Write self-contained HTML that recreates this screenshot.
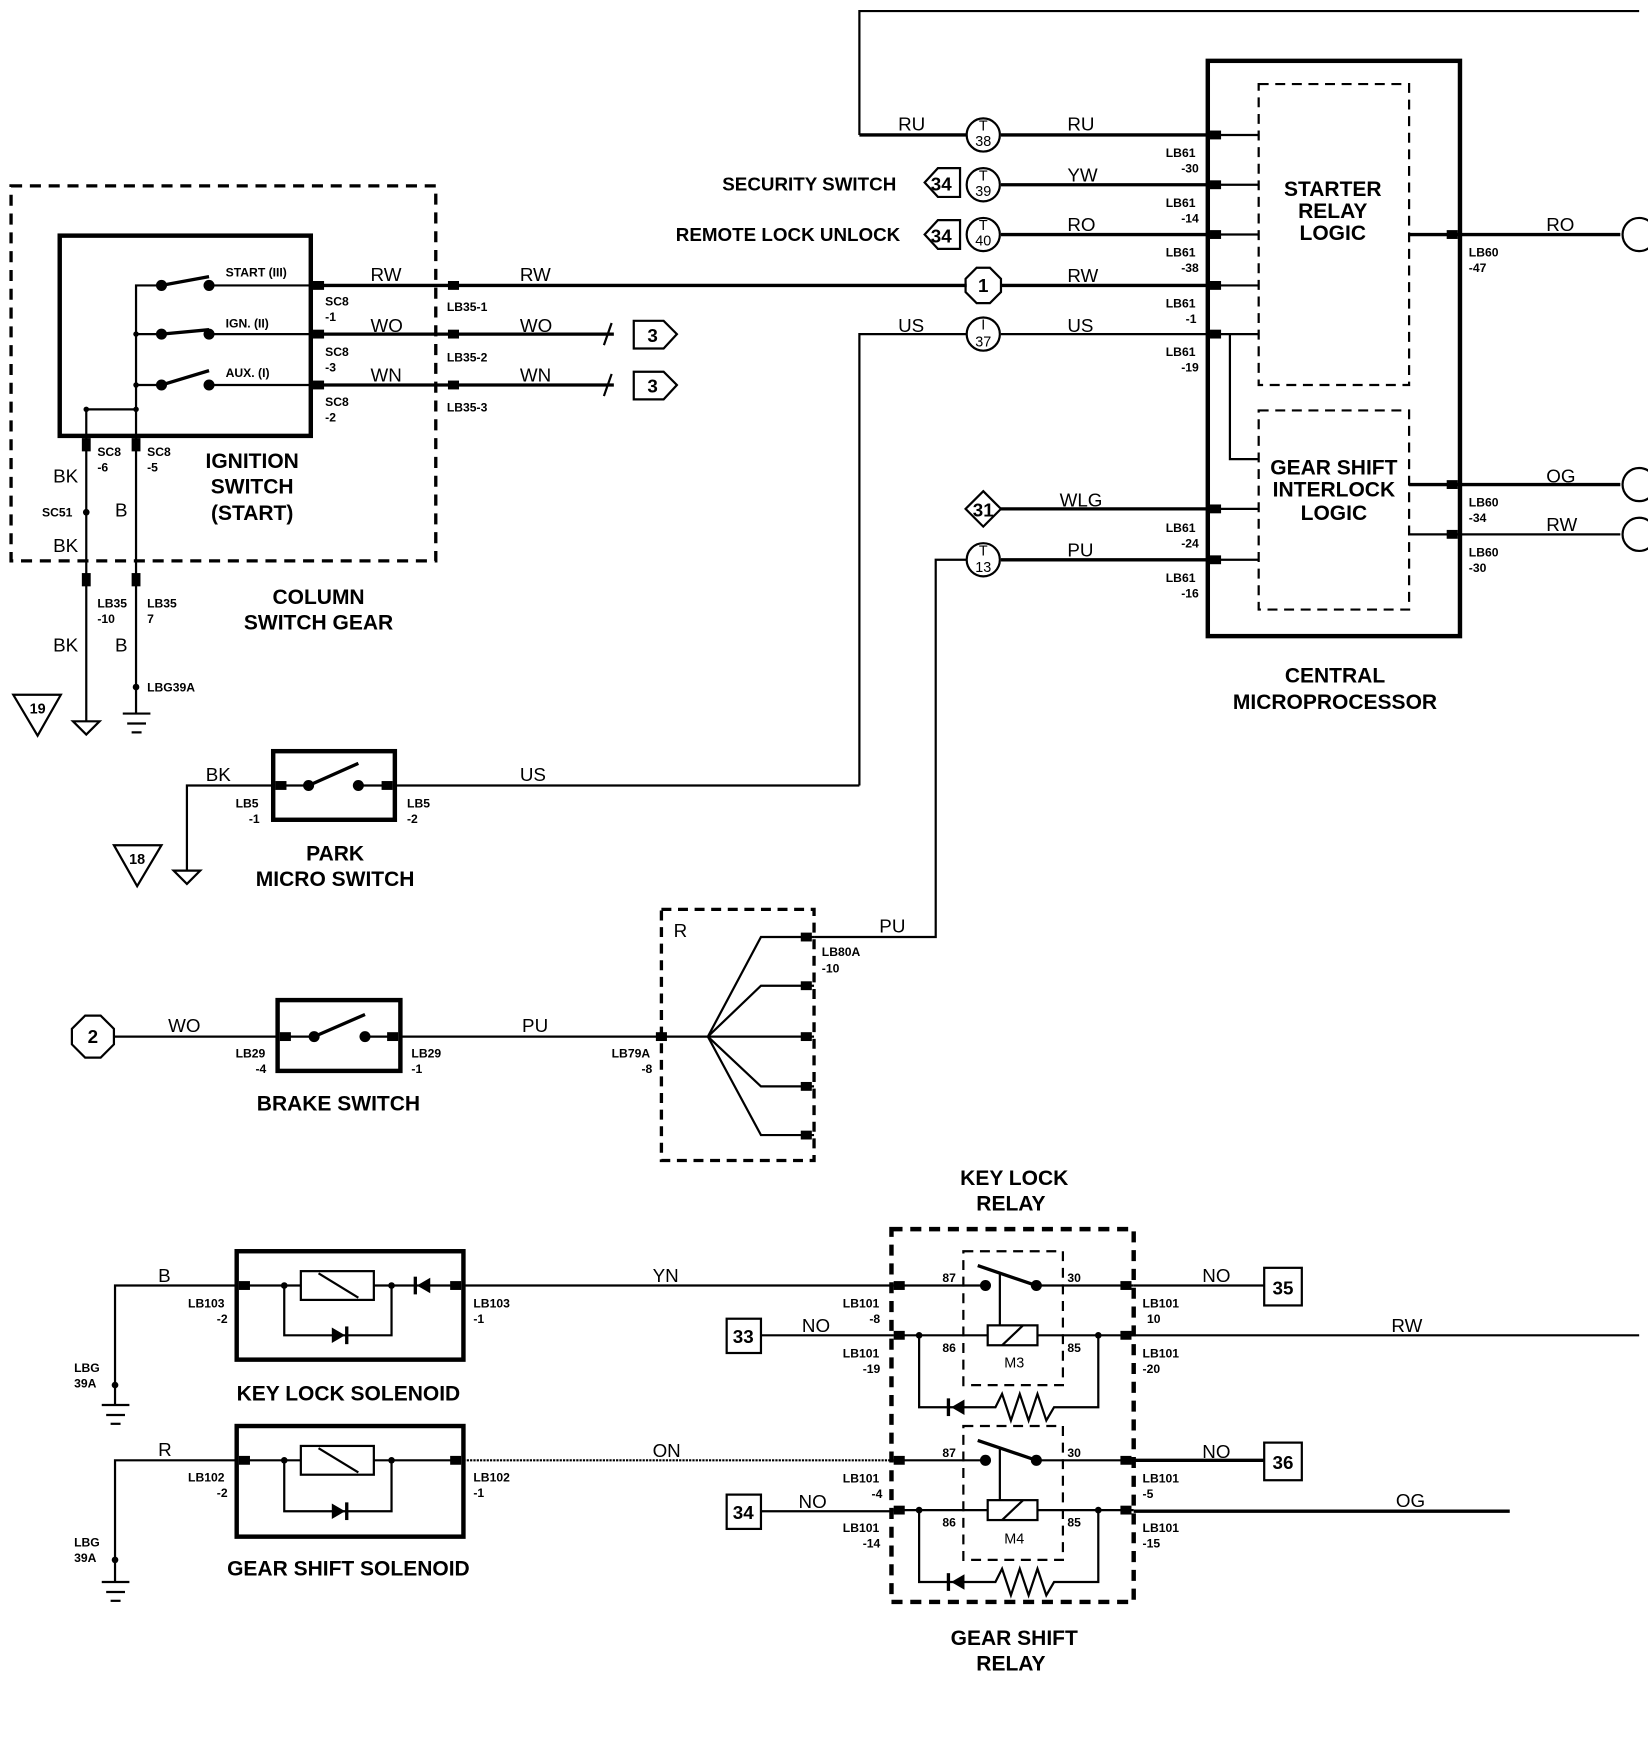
<!DOCTYPE html>
<html><head><meta charset="utf-8"><style>
html,body{margin:0;padding:0;background:#fff;}
svg{display:block;}
text{font-family:"Liberation Sans",sans-serif;fill:#000;}
.b{font-weight:bold;font-size:19px;}
.w{font-size:17px;}
.s{font-size:11px;font-weight:bold;}
.t{font-size:17px;font-weight:bold;}
</style></head><body>
<svg width="1648" height="1738" viewBox="0 0 1490 1571" preserveAspectRatio="none" xmlns="http://www.w3.org/2000/svg">
<g stroke="#000" fill="none" stroke-width="2">
<polyline points="777,122 777,10 1482,10"/>
<line x1="777" y1="122" x2="874" y2="122" stroke-width="3"/>
<line x1="905" y1="122" x2="1092" y2="122" stroke-width="3"/>
<line x1="905" y1="167" x2="1092" y2="167" stroke-width="3"/>
<line x1="905" y1="212" x2="1092" y2="212" stroke-width="3"/>
<line x1="281" y1="258" x2="874" y2="258" stroke-width="3"/>
<line x1="905" y1="258" x2="1092" y2="258" stroke-width="3"/>
<polyline points="777,710 777,302 874,302"/>
<line x1="905" y1="302" x2="1092" y2="302"/>
<line x1="905" y1="460" x2="1092" y2="460" stroke-width="3"/>
<polyline points="736,847 846,847 846,506 874,506"/>
<line x1="905" y1="506" x2="1092" y2="506" stroke-width="3"/>
<rect x="1092" y="55" width="228" height="520" stroke-width="4"/>
<rect x="1138" y="76" width="136" height="272" stroke-dasharray="9,6"/>
<rect x="1138" y="371" width="136" height="180" stroke-dasharray="9,6"/>
<line x1="1092" y1="122" x2="1138" y2="122"/><line x1="1092" y1="167" x2="1138" y2="167"/>
<line x1="1092" y1="212" x2="1138" y2="212"/><line x1="1092" y1="258" x2="1138" y2="258"/>
<line x1="1092" y1="302" x2="1138" y2="302"/><polyline points="1112,302 1112,415 1138,415"/>
<line x1="1092" y1="460" x2="1138" y2="460"/><line x1="1092" y1="506" x2="1138" y2="506"/>
<line x1="1274" y1="212" x2="1465" y2="212" stroke-width="3"/>
<line x1="1274" y1="438" x2="1465" y2="438" stroke-width="3"/>
<line x1="1274" y1="483" x2="1465" y2="483"/>
<circle cx="1482" cy="212" r="15"/><circle cx="1482" cy="438" r="15"/><circle cx="1482" cy="483" r="15"/>
<circle cx="889" cy="122" r="15"/><circle cx="889" cy="167" r="15"/><circle cx="889" cy="212" r="15"/>
<polygon points="883,242 895,242 905,252 905,264 895,274 883,274 873,264 873,252"/>
<circle cx="889" cy="302" r="15"/><circle cx="889" cy="506" r="15"/>
<polygon points="889,444 905,460 889,476 873,460"/>
<polygon points="848,152 868,152 868,178 848,178 836,165"/>
<polygon points="848,199 868,199 868,225 848,225 836,212"/>
<rect x="10" y="168" width="384" height="339" stroke-dasharray="10,7" stroke-width="3"/>
<rect x="54" y="213" width="227" height="181" stroke-width="4"/>
<polyline points="189,258 281,258"/><polyline points="189,302 281,302"/><polyline points="189,348 281,348"/>
<polyline points="146,258 123,258 123,394"/><line x1="123" y1="302" x2="146" y2="302"/><line x1="123" y1="348" x2="146" y2="348"/>
<line x1="146" y1="258" x2="189" y2="250" stroke-width="3"/><line x1="146" y1="302" x2="189" y2="298" stroke-width="3"/><line x1="146" y1="348" x2="189" y2="335" stroke-width="3"/>
<line x1="78" y1="370" x2="123" y2="370"/>
<line x1="78" y1="370" x2="78" y2="652"/><line x1="123" y1="394" x2="123" y2="645"/>
<polygon points="66,652 90,652 78,664"/>
<line x1="111" y1="645" x2="136" y2="645"/><line x1="115" y1="654" x2="132" y2="654"/><line x1="119" y1="662" x2="128" y2="662"/>
<polygon points="12,628 55,628 34,665"/>
<line x1="281" y1="302" x2="555" y2="302" stroke-width="3"/><line x1="281" y1="348" x2="555" y2="348" stroke-width="3"/>
<line x1="546" y1="312" x2="553" y2="292"/><line x1="546" y1="358" x2="553" y2="338"/>
<polygon points="573,290 600,290 612,302 600,315 573,315"/>
<polygon points="573,336 600,336 612,348 600,361 573,361"/>
<rect x="247" y="679" width="110" height="62" stroke-width="4"/>
<line x1="253" y1="710" x2="279" y2="710"/><line x1="279" y1="710" x2="324" y2="690" stroke-width="3"/><line x1="324" y1="710" x2="351" y2="710"/>
<line x1="357" y1="710" x2="777" y2="710"/>
<polyline points="247,710 169,710 169,787"/>
<polygon points="157,787 181,787 169,799"/>
<polygon points="103,764 146,764 124,801"/>
<polygon points="77,918 91,918 103,930 103,944 91,956 77,956 65,944 65,930"/>
<line x1="103" y1="937" x2="251" y2="937"/>
<rect x="251" y="904" width="111" height="64" stroke-width="4"/>
<line x1="257" y1="937" x2="284" y2="937"/><line x1="284" y1="937" x2="330" y2="917" stroke-width="3"/><line x1="330" y1="937" x2="356" y2="937"/>
<line x1="362" y1="937" x2="640" y2="937"/>
<rect x="598" y="822" width="138" height="227" stroke-dasharray="9,6" stroke-width="3"/>
<polyline points="640,937 688,847 736,847"/><polyline points="640,937 688,891 736,891"/><line x1="640" y1="937" x2="736" y2="937"/>
<polyline points="640,937 688,982 736,982"/><polyline points="640,937 688,1026 736,1026"/>
<rect x="214" y="1131" width="205" height="98" stroke-width="4"/>
<polyline points="214,1162 104,1162 104,1270"/>
<line x1="92" y1="1270" x2="117" y2="1270"/><line x1="96" y1="1279" x2="113" y2="1279"/><line x1="100" y1="1287" x2="109" y2="1287"/>
<line x1="220" y1="1162" x2="413" y2="1162"/>
<rect x="272" y="1149" width="66" height="26" fill="#fff"/><line x1="288" y1="1151" x2="324" y2="1173"/>
<polyline points="257,1162 257,1207 354,1207 354,1162"/>
<line x1="419" y1="1162" x2="808" y2="1162"/>
<rect x="214" y="1289" width="205" height="100" stroke-width="4"/>
<polyline points="214,1320 104,1320 104,1430"/>
<line x1="92" y1="1430" x2="117" y2="1430"/><line x1="96" y1="1439" x2="113" y2="1439"/><line x1="100" y1="1447" x2="109" y2="1447"/>
<line x1="220" y1="1320" x2="413" y2="1320"/>
<rect x="272" y="1307" width="66" height="26" fill="#fff"/><line x1="288" y1="1309" x2="324" y2="1331"/>
<polyline points="257,1320 257,1366 354,1366 354,1320"/>
<line x1="419" y1="1320" x2="808" y2="1320" stroke-dasharray="2,1"/>
<rect x="806" y="1111" width="219" height="337" stroke-dasharray="10,7" stroke-width="4"/>
<rect x="871" y="1131" width="90" height="121" stroke-dasharray="9,6"/>
<rect x="871" y="1289" width="90" height="121" stroke-dasharray="9,6"/>
<g id="r1">
<line x1="808" y1="1162" x2="891" y2="1162"/><line x1="937" y1="1162" x2="1025" y2="1162"/>
<line x1="884" y1="1144" x2="937" y2="1162" stroke-width="3"/><line x1="904" y1="1152" x2="904" y2="1198"/>
<line x1="808" y1="1207" x2="893" y2="1207"/><rect x="893" y="1198" width="45" height="18"/><line x1="906" y1="1216" x2="925" y2="1198"/>
<line x1="938" y1="1207" x2="1025" y2="1207"/>
<polyline points="831,1207 831,1272 900,1272 906,1260 914,1284 922,1260 930,1284 938,1260 946,1284 953,1272 993,1272 993,1207"/>
</g>
<use href="#r1" y="158"/>
<line x1="688" y1="1207" x2="808" y2="1207"/><line x1="688" y1="1366" x2="808" y2="1366"/>
<line x1="1025" y1="1162" x2="1143" y2="1162"/><line x1="1025" y1="1207" x2="1482" y2="1207"/>
<line x1="1025" y1="1320" x2="1143" y2="1320" stroke-width="3"/><line x1="1025" y1="1366" x2="1365" y2="1366" stroke-width="3"/>
<rect x="657" y="1192" width="31" height="31"/><rect x="657" y="1351" width="31" height="31"/>
<rect x="1143" y="1146" width="34" height="34"/><rect x="1143" y="1304" width="34" height="34"/>
</g>
<g fill="#000">
<rect x="1094" y="118" width="10" height="8"/><rect x="1094" y="163" width="10" height="8"/><rect x="1094" y="208" width="10" height="8"/>
<rect x="1094" y="254" width="10" height="8"/><rect x="1094" y="298" width="10" height="8"/><rect x="1094" y="456" width="10" height="8"/><rect x="1094" y="502" width="10" height="8"/>
<rect x="1308" y="208" width="10" height="8"/><rect x="1308" y="434" width="10" height="8"/><rect x="1308" y="479" width="10" height="8"/>
<rect x="283" y="254" width="10" height="8"/><rect x="283" y="298" width="10" height="8"/><rect x="283" y="344" width="10" height="8"/>
<rect x="405" y="254" width="10" height="8"/><rect x="405" y="298" width="10" height="8"/><rect x="405" y="344" width="10" height="8"/>
<rect x="74" y="396" width="8" height="12"/><rect x="119" y="396" width="8" height="12"/><rect x="74" y="518" width="8" height="12"/><rect x="119" y="518" width="8" height="12"/>
<circle cx="146" cy="258" r="5"/><circle cx="189" cy="258" r="5"/><circle cx="146" cy="302" r="5"/><circle cx="189" cy="302" r="5"/><circle cx="146" cy="348" r="5"/><circle cx="189" cy="348" r="5"/>
<circle cx="123" cy="302" r="2.5"/><circle cx="123" cy="348" r="2.5"/><circle cx="78" cy="370" r="2.5"/><circle cx="123" cy="370" r="2.5"/>
<circle cx="78" cy="463" r="3"/><circle cx="123" cy="621" r="3"/>
<circle cx="279" cy="710" r="5"/><circle cx="324" cy="710" r="5"/><rect x="249" y="706" width="10" height="8"/><rect x="345" y="706" width="10" height="8"/>
<circle cx="284" cy="937" r="5"/><circle cx="330" cy="937" r="5"/><rect x="253" y="933" width="10" height="8"/><rect x="350" y="933" width="10" height="8"/>
<rect x="593" y="933" width="10" height="8"/>
<rect x="724" y="843" width="10" height="8"/><rect x="724" y="887" width="10" height="8"/><rect x="724" y="933" width="10" height="8"/><rect x="724" y="978" width="10" height="8"/><rect x="724" y="1022" width="10" height="8"/>
<rect x="216" y="1158" width="10" height="8"/><rect x="407" y="1158" width="10" height="8"/><rect x="216" y="1316" width="10" height="8"/><rect x="407" y="1316" width="10" height="8"/>
<circle cx="257" cy="1162" r="3"/><circle cx="354" cy="1162" r="3"/><circle cx="257" cy="1320" r="3"/><circle cx="354" cy="1320" r="3"/>
<polygon points="389,1155 389,1169 377,1162"/><rect x="374" y="1154" width="3" height="16"/>
<polygon points="300,1200 300,1214 312,1207"/><rect x="312" y="1199" width="3" height="16"/>
<polygon points="300,1359 300,1373 312,1366"/><rect x="312" y="1358" width="3" height="16"/>
<circle cx="104" cy="1252" r="3"/><circle cx="104" cy="1410" r="3"/>
<g id="rp"><rect x="808" y="1158" width="10" height="8"/><rect x="808" y="1203" width="10" height="8"/><rect x="1013" y="1158" width="10" height="8"/><rect x="1013" y="1203" width="10" height="8"/>
<circle cx="891" cy="1162" r="5"/><circle cx="937" cy="1162" r="5"/><circle cx="831" cy="1207" r="3"/><circle cx="993" cy="1207" r="3"/>
<polygon points="872,1265 872,1279 860,1272"/><rect x="856" y="1264" width="3" height="16"/></g>
<use href="#rp" y="158"/>
</g>
<g class="w">
<text x="812" y="118">RU</text><text x="965" y="118">RU</text><text x="965" y="164">YW</text><text x="965" y="209">RO</text>
<text x="965" y="255">RW</text><text x="812" y="300">US</text><text x="965" y="300">US</text><text x="958" y="458">WLG</text><text x="965" y="503">PU</text>
<text x="1398" y="209">RO</text><text x="1398" y="436">OG</text><text x="1398" y="480">RW</text>
<text x="335" y="254">RW</text><text x="470" y="254">RW</text><text x="335" y="300">WO</text><text x="470" y="300">WO</text><text x="335" y="345">WN</text><text x="470" y="345">WN</text>
<text x="48" y="436">BK</text><text x="48" y="499">BK</text><text x="104" y="467">B</text><text x="48" y="589">BK</text><text x="104" y="589">B</text>
<text x="186" y="706">BK</text><text x="470" y="706">US</text><text x="152" y="933">WO</text><text x="472" y="933">PU</text><text x="795" y="843">PU</text>
<text x="609" y="847">R</text><text x="143" y="1159">B</text><text x="143" y="1316">R</text>
<text x="590" y="1159">YN</text><text x="590" y="1317">ON</text><text x="725" y="1204">NO</text><text x="722" y="1363">NO</text>
<text x="1087" y="1159">NO</text><text x="1087" y="1318">NO</text><text x="1258" y="1204">RW</text><text x="1262" y="1362">OG</text>
<text x="653" y="172" font-weight="bold">SECURITY SWITCH</text><text x="611" y="218" font-weight="bold">REMOTE LOCK UNLOCK</text>
</g>
<g class="t" text-anchor="middle">
<text x="851" y="172">34</text><text x="851" y="219">34</text><text x="889" y="264">1</text><text x="889" y="467">31</text>
<text x="590" y="309">3</text><text x="590" y="355">3</text><text x="84" y="943">2</text>
<text x="672" y="1214">33</text><text x="672" y="1373">34</text><text x="1160" y="1170">35</text><text x="1160" y="1328">36</text>
</g>
<g font-size="13" text-anchor="middle">
<text x="889" y="132">38</text><text x="889" y="177">39</text><text x="889" y="222">40</text><text x="889" y="313">37</text><text x="889" y="517">13</text>
<text x="889" y="118">T</text><text x="889" y="163">T</text><text x="889" y="208">T</text><text x="889" y="298">I</text><text x="889" y="502">T</text>
<text x="34" y="645" font-weight="bold">19</text><text x="124" y="781" font-weight="bold">18</text>
<text x="917" y="1236">M3</text><text x="917" y="1395">M4</text>
</g>
<g class="b" text-anchor="middle">
<text x="1205" y="177">STARTER</text><text x="1205" y="197">RELAY</text><text x="1205" y="217">LOGIC</text>
<text x="1206" y="429">GEAR SHIFT</text><text x="1206" y="449">INTERLOCK</text><text x="1206" y="470">LOGIC</text>
<text x="1207" y="617">CENTRAL</text><text x="1207" y="641">MICROPROCESSOR</text>
<text x="228" y="423">IGNITION</text><text x="228" y="446">SWITCH</text><text x="228" y="470">(START)</text>
<text x="288" y="546">COLUMN</text><text x="288" y="569">SWITCH GEAR</text>
<text x="303" y="778">PARK</text><text x="303" y="801">MICRO SWITCH</text><text x="306" y="1004">BRAKE SWITCH</text>
<text x="315" y="1266">KEY LOCK SOLENOID</text><text x="315" y="1424">GEAR SHIFT SOLENOID</text>
<text x="917" y="1071">KEY LOCK</text><text x="914" y="1094">RELAY</text>
<text x="917" y="1487">GEAR SHIFT</text><text x="914" y="1510">RELAY</text>
</g>
<g class="s">
<text x="1054" y="142">LB61</text><text x="1068" y="156">-30</text><text x="1054" y="187">LB61</text><text x="1068" y="201">-14</text>
<text x="1054" y="232">LB61</text><text x="1068" y="246">-38</text><text x="1054" y="278">LB61</text><text x="1072" y="292">-1</text>
<text x="1054" y="322">LB61</text><text x="1068" y="336">-19</text><text x="1054" y="481">LB61</text><text x="1068" y="495">-24</text>
<text x="1054" y="526">LB61</text><text x="1068" y="540">-16</text>
<text x="1328" y="232">LB60</text><text x="1328" y="246">-47</text><text x="1328" y="458">LB60</text><text x="1328" y="472">-34</text><text x="1328" y="503">LB60</text><text x="1328" y="517">-30</text>
<text x="204" y="250">START (III)</text><text x="204" y="296">IGN. (II)</text><text x="204" y="341">AUX. (I)</text>
<text x="294" y="276">SC8</text><text x="294" y="290">-1</text><text x="294" y="322">SC8</text><text x="294" y="336">-3</text><text x="294" y="367">SC8</text><text x="294" y="381">-2</text>
<text x="404" y="281">LB35-1</text><text x="404" y="327">LB35-2</text><text x="404" y="372">LB35-3</text>
<text x="88" y="412">SC8</text><text x="88" y="426">-6</text><text x="133" y="412">SC8</text><text x="133" y="426">-5</text><text x="38" y="467">SC51</text>
<text x="88" y="549">LB35</text><text x="88" y="563">-10</text><text x="133" y="549">LB35</text><text x="133" y="563">7</text><text x="133" y="625">LBG39A</text>
<text x="213" y="730">LB5</text><text x="225" y="744">-1</text><text x="368" y="730">LB5</text><text x="368" y="744">-2</text>
<text x="213" y="956">LB29</text><text x="231" y="970">-4</text><text x="372" y="956">LB29</text><text x="372" y="970">-1</text>
<text x="553" y="956">LB79A</text><text x="580" y="970">-8</text><text x="743" y="864">LB80A</text><text x="743" y="879">-10</text>
<text x="170" y="1182">LB103</text><text x="196" y="1196">-2</text><text x="428" y="1182">LB103</text><text x="428" y="1196">-1</text>
<text x="170" y="1339">LB102</text><text x="196" y="1353">-2</text><text x="428" y="1339">LB102</text><text x="428" y="1353">-1</text>
<text x="67" y="1240">LBG</text><text x="67" y="1254">39A</text><text x="67" y="1398">LBG</text><text x="67" y="1412">39A</text>
<text x="762" y="1182">LB101</text><text x="786" y="1196">-8</text><text x="762" y="1227">LB101</text><text x="780" y="1241">-19</text>
<text x="762" y="1340">LB101</text><text x="788" y="1354">-4</text><text x="762" y="1385">LB101</text><text x="780" y="1399">-14</text>
<text x="1033" y="1182">LB101</text><text x="1037" y="1196">10</text><text x="1033" y="1227">LB101</text><text x="1033" y="1241">-20</text>
<text x="1033" y="1340">LB101</text><text x="1033" y="1354">-5</text><text x="1033" y="1385">LB101</text><text x="1033" y="1399">-15</text>
<text x="852" y="1159">87</text><text x="965" y="1159">30</text><text x="852" y="1222">86</text><text x="965" y="1222">85</text>
<text x="852" y="1317">87</text><text x="965" y="1317">30</text><text x="852" y="1380">86</text><text x="965" y="1380">85</text>
</g>
</svg>
</body></html>
